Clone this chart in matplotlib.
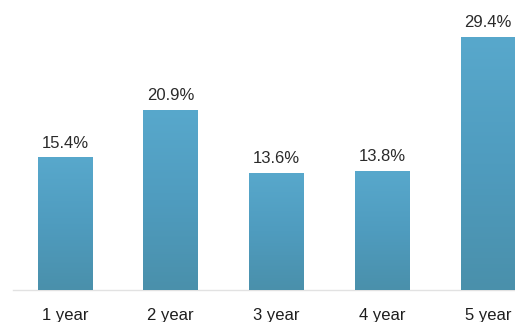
import matplotlib
matplotlib.use("Agg")
import matplotlib.pyplot as plt
import numpy as np
from matplotlib.colors import LinearSegmentedColormap

categories = ["1 year", "2 year", "3 year", "4 year", "5 year"]
values = [15.4, 20.9, 13.6, 13.8, 29.4]
value_labels = ["15.4%", "20.9%", "13.6%", "13.8%", "29.4%"]

plt.rcParams['font.family'] = ['Liberation Sans', 'DejaVu Sans']

fig = plt.figure(figsize=(5.15, 3.22), dpi=100)
ax = fig.add_axes([13/515, 32/322, 502/515, 290/322])

x = list(range(len(categories)))
bars = ax.bar(x, values, width=0.52, color="#4f9dbf", edgecolor="none", zorder=2)

cmap = LinearSegmentedColormap.from_list("g", ["#4a90ab", "#4f9cbf", "#58a8cc"])
grad = np.linspace(0, 1, 256).reshape(-1, 1)
for b in bars:
    x0 = b.get_x()
    im = ax.imshow(grad, cmap=cmap, aspect="auto", origin="lower",
                   extent=[x0, x0 + b.get_width(), 0, b.get_height()], zorder=3)
    im.set_clip_path(b)

for b, lab in zip(bars, value_labels):
    ax.annotate(lab, (b.get_x() + b.get_width() / 2, b.get_height()),
                xytext=(0, 5), textcoords="offset points",
                ha="center", va="bottom", fontsize=12, color="#2a2a2a")

ax.set_xlim(-0.492, 4.255)
ax.set_ylim(0, 33.7)
ax.set_xticks(x)
ax.set_xticklabels(categories, fontsize=12, color="#1e1e1e")
ax.tick_params(axis="x", length=0, pad=13)
ax.set_yticks([])
for s in ["top", "right", "left"]:
    ax.spines[s].set_visible(False)
ax.spines["bottom"].set_color("#e2e2e2")
ax.spines["bottom"].set_linewidth(1.0)

fig.savefig("out.png", dpi=100)
